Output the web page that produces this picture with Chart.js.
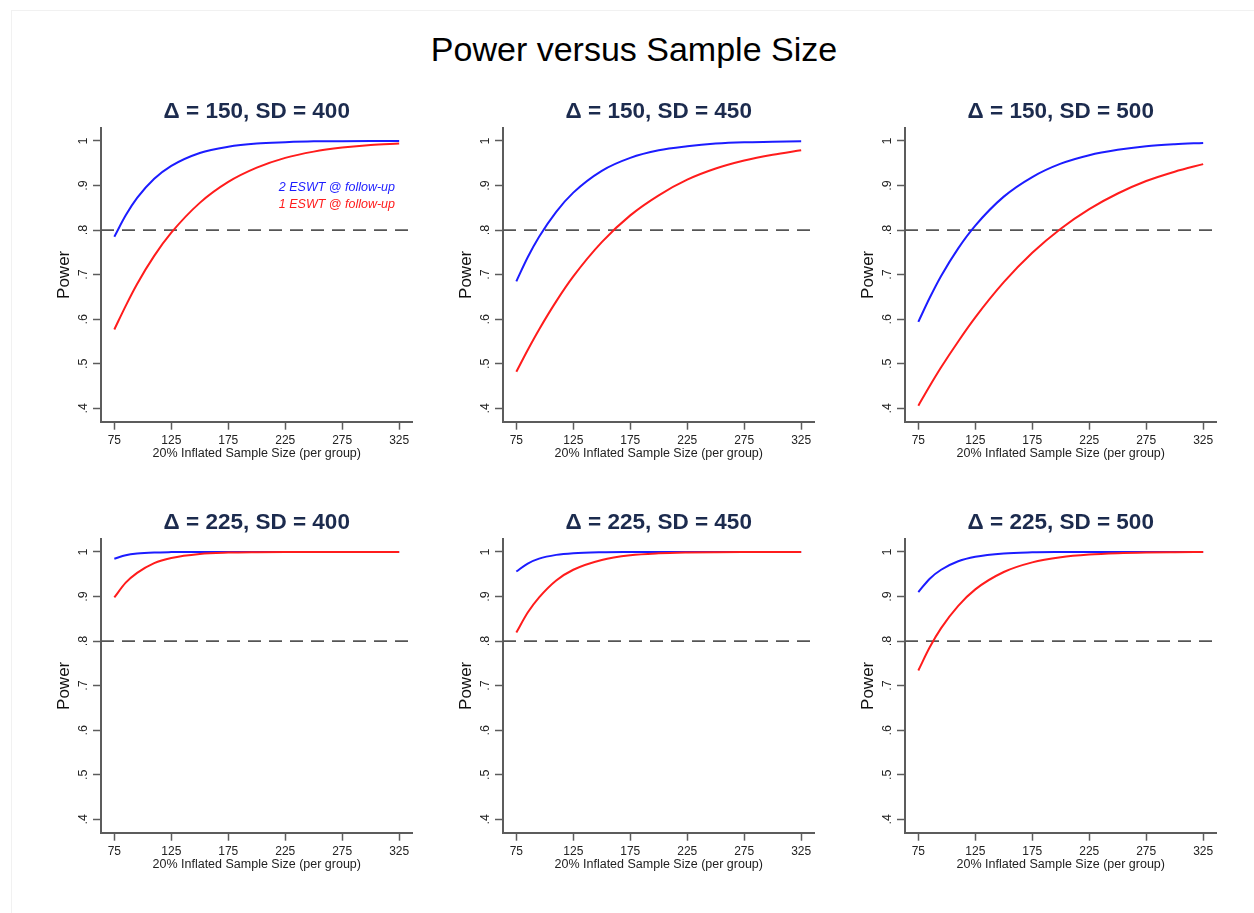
<!DOCTYPE html>
<html>
<head>
<meta charset="utf-8">
<title>Power versus Sample Size</title>
<script src="https://cdn.jsdelivr.net/npm/chart.js@4"></script>
<style>
  body { margin: 0; background: #fff; font-family: "Liberation Sans", Arial, sans-serif; }
  #page { position: relative; width: 1254px; height: 913px; overflow: hidden; background: #fff; }
  #frame { position: absolute; left: 11px; top: 10px; width: 1260px; height: 920px; border: 1px solid #f1f1f1; }
  #mainTitle { position: absolute; left: 0; width: 1268px; top: 28.5px; text-align: center; font-size: 34px; line-height: 40px; color: #000; }
  canvas { position: absolute; }
</style>
</head>
<body>
<div id="page">
  <div id="frame"></div>
  <div id="mainTitle">Power versus Sample Size</div>
</div>
<script>
// x values (20% inflated sample size per group) where the curves were read
const sampleSizes = [75, 85, 95, 110, 125, 150, 175, 200, 225, 250, 275, 300, 325];
const xTicks = [75, 125, 175, 225, 275, 325];
const yTicks = [0.4, 0.5, 0.6, 0.7, 0.8, 0.9, 1];
const targetPower = 0.8;

const seriesLabels = ["2 ESWT @ follow-up", "1 ESWT @ follow-up"];
const panelTitles = [
  "Δ = 150, SD = 400", "Δ = 150, SD = 450", "Δ = 150, SD = 500",
  "Δ = 225, SD = 400", "Δ = 225, SD = 450", "Δ = 225, SD = 500"
];

// power (blue = 2 ESWT, red = 1 ESWT)
const twoEswt_150_400 = [0.785, 0.833, 0.872, 0.915, 0.944, 0.973, 0.987, 0.994, 0.997, 0.999, 0.9995, 0.9998, 0.9999];
const oneEswt_150_400 = [0.577, 0.630, 0.679, 0.742, 0.794, 0.861, 0.908, 0.940, 0.962, 0.976, 0.985, 0.991, 0.994];
const twoEswt_150_450 = [0.685, 0.739, 0.785, 0.841, 0.884, 0.933, 0.962, 0.979, 0.988, 0.994, 0.997, 0.998, 0.999];
const oneEswt_150_450 = [0.482, 0.531, 0.577, 0.640, 0.696, 0.773, 0.833, 0.878, 0.913, 0.938, 0.956, 0.969, 0.979];
const twoEswt_150_500 = [0.594, 0.648, 0.697, 0.759, 0.810, 0.875, 0.919, 0.949, 0.968, 0.980, 0.988, 0.9926, 0.9956];
const oneEswt_150_500 = [0.406, 0.450, 0.492, 0.550, 0.604, 0.683, 0.749, 0.803, 0.847, 0.882, 0.910, 0.931, 0.948];
const twoEswt_225_400 = [0.9847, 0.9925, 0.9963, 0.9988, 0.9996, 0.9999, 1, 1, 1, 1, 1, 1, 1];
const oneEswt_225_400 = [0.898, 0.931, 0.953, 0.975, 0.9865, 0.9955, 0.9985, 0.9995, 0.9999, 1, 1, 1, 1];
const twoEswt_225_450 = [0.956, 0.974, 0.985, 0.9934, 0.9972, 0.9994, 0.9999, 1, 1, 1, 1, 1, 1];
const oneEswt_225_450 = [0.819, 0.864, 0.898, 0.936, 0.960, 0.982, 0.9924, 0.9968, 0.9987, 0.9995, 0.9998, 0.9999, 1];
const twoEswt_225_500 = [0.910, 0.940, 0.960, 0.979, 0.9892, 0.9966, 0.9990, 0.9997, 0.9999, 1, 1, 1, 1];
const oneEswt_225_500 = [0.734, 0.786, 0.829, 0.879, 0.916, 0.955, 0.9766, 0.9881, 0.9941, 0.9971, 0.9986, 0.9993, 0.9997];

const X_MIN = 63.3, X_MAX = 336.7;
const Y_MIN = 0.37, Y_MAX = 1.029;

const BLUE = "#1c1cff";
const RED = "#ff1c1c";
const AXIS = "#5c5c5c";
const TEXT = "#222";
const TITLE_COLOR = "#1c2b4e";
const FONT = '"Liberation Sans", Arial, Helvetica, sans-serif';

const panels = [
  { title: panelTitles[0], blue: twoEswt_150_400, red: oneEswt_150_400, legend: true },
  { title: panelTitles[1], blue: twoEswt_150_450, red: oneEswt_150_450 },
  { title: panelTitles[2], blue: twoEswt_150_500, red: oneEswt_150_500 },
  { title: panelTitles[3], blue: twoEswt_225_400, red: oneEswt_225_400 },
  { title: panelTitles[4], blue: twoEswt_225_450, red: oneEswt_225_450 },
  { title: panelTitles[5], blue: twoEswt_225_500, red: oneEswt_225_500 }
];
const colLeft = [51, 453, 855];
const rowTop = [90, 501];

function formatPower(v) {
  if (v === 1) return "1";
  return v.toFixed(1).replace(/^0/, "");
}

// y tick labels are written vertically, like the original
const rotatedYTicks = {
  id: "rotatedYTicks",
  afterDraw(chart) {
    const scale = chart.scales.y;
    const ctx = chart.ctx;
    ctx.save();
    ctx.font = "12.5px " + FONT;
    ctx.fillStyle = TEXT;
    ctx.textAlign = "center";
    ctx.textBaseline = "alphabetic";
    scale.ticks.forEach(t => {
      const py = scale.getPixelForValue(t.value);
      ctx.save();
      ctx.translate(scale.right - 14.5, py);
      ctx.rotate(-Math.PI / 2);
      ctx.fillText(formatPower(t.value), 0, 0);
      ctx.restore();
    });
    ctx.restore();
  }
};

// italic text legend inside the first panel
const legendText = {
  id: "legendText",
  afterDatasetsDraw(chart) {
    const { ctx, chartArea } = chart;
    ctx.save();
    ctx.font = "italic 12.5px " + FONT;
    ctx.textAlign = "right";
    ctx.textBaseline = "alphabetic";
    const x = chartArea.right - 17.5;
    [[seriesLabels[0], BLUE], [seriesLabels[1], RED]].forEach((entry, i) => {
      ctx.fillStyle = entry[1];
      ctx.fillText(entry[0], x, chartArea.top + 62.5 + i * 17.5);
    });
    ctx.restore();
  }
};

function toPoints(values) {
  return sampleSizes.map((n, i) => ({ x: n, y: values[i] }));
}

const page = document.getElementById("page");

panels.forEach((p, idx) => {
  const canvas = document.createElement("canvas");
  canvas.width = 380;
  canvas.height = 380;
  canvas.style.left = colLeft[idx % 3] + "px";
  canvas.style.top = rowTop[Math.floor(idx / 3)] + "px";
  page.appendChild(canvas);

  const axisGrid = {
    display: true,
    drawOnChartArea: false,
    drawTicks: true,
    tickLength: 8,
    tickColor: AXIS,
    tickWidth: 1.5
  };

  new Chart(canvas, {
    type: "line",
    data: {
      datasets: [
        {
          label: seriesLabels[1],
          data: toPoints(p.red),
          borderColor: RED,
          borderWidth: 2,
          pointRadius: 0,
          cubicInterpolationMode: "monotone",
          order: 0
        },
        {
          label: seriesLabels[0],
          data: toPoints(p.blue),
          borderColor: BLUE,
          borderWidth: 2,
          pointRadius: 0,
          cubicInterpolationMode: "monotone",
          order: 1
        },
        {
          label: "target",
          data: [{ x: X_MIN, y: targetPower }, { x: X_MAX, y: targetPower }],
          borderColor: "#555",
          borderWidth: 1.8,
          borderDash: [13, 8],
          pointRadius: 0,
          order: 2
        }
      ]
    },
    options: {
      responsive: false,
      animation: false,
      devicePixelRatio: 1,
      layout: { padding: { left: 0, right: 18.5, top: 0, bottom: 0 } },
      plugins: {
        legend: { display: false },
        tooltip: { enabled: false },
        title: {
          display: true,
          fullSize: false,
          text: p.title,
          color: TITLE_COLOR,
          font: { family: FONT, size: 22.5, weight: "bold" },
          padding: { top: 8, bottom: 3 }
        }
      },
      scales: {
        x: {
          type: "linear",
          min: X_MIN,
          max: X_MAX,
          afterBuildTicks: s => { s.ticks = xTicks.map(v => ({ value: v })); },
          afterFit: s => { s.height = 48.3; },
          grid: axisGrid,
          border: { display: true, color: AXIS, width: 2 },
          ticks: {
            color: TEXT,
            font: { family: FONT, size: 12 },
            padding: 4,
            maxRotation: 0,
            callback: v => String(v)
          },
          title: {
            display: true,
            text: "20% Inflated Sample Size (per group)",
            color: TEXT,
            font: { family: FONT, size: 12.5 },
            padding: { top: 0, bottom: 8.5 }
          }
        },
        y: {
          type: "linear",
          min: Y_MIN,
          max: Y_MAX,
          afterBuildTicks: s => { s.ticks = yTicks.map(v => ({ value: v })); },
          afterFit: s => { s.width = 50; },
          grid: axisGrid,
          border: { display: true, color: AXIS, width: 2 },
          ticks: { display: false },
          title: {
            display: true,
            text: "Power",
            color: "#111",
            font: { family: FONT, size: 17 },
            padding: { top: 3, bottom: 0 }
          }
        }
      }
    },
    plugins: p.legend ? [rotatedYTicks, legendText] : [rotatedYTicks]
  });
});
</script>
</body>
</html>
